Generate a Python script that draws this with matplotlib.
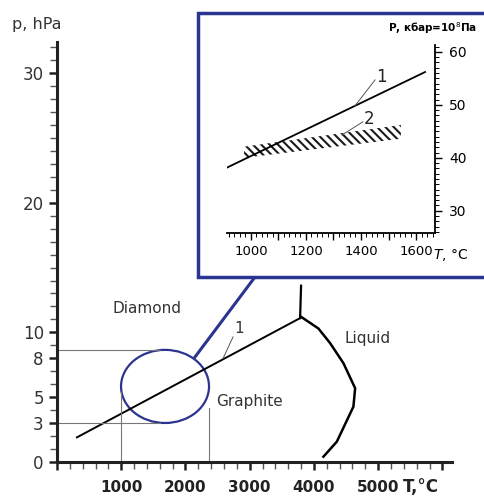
import numpy as np
import matplotlib.pyplot as plt
from matplotlib.patches import Ellipse, Rectangle
from matplotlib.lines import Line2D

# main phase diagram (T in degC, p in hPa-scale as labelled)
line1_T = [310, 3785]
line1_p = [1.9, 11.1]
melt_T = [3785, 3800]
melt_p = [11.1, 13.6]
liquid_T = [3800, 4070, 4252, 4460, 4642, 4615, 4357, 4148]
liquid_p = [11.2, 10.3, 9.17, 7.62, 5.69, 4.27, 1.57, 0.41]
y_ticks = [0, 3, 5, 8, 10, 20, 30]
x_ticks = [1000, 2000, 3000, 4000, 5000]

# inset (kbar)
in_line_T = [887, 1633]
in_line_p = [37.5, 56.2]
band_T = [975, 1545]
band_lo = [40.0, 43.6]
band_hi = [42.1, 46.2]

blue = '#2b3590'
W, H = 484, 497

fig = plt.figure(figsize=(4.84, 4.97), dpi=100)
ax = fig.add_axes([57 / W, 35 / H, 395 / W, 420 / H])
ax.set_xlim(0, 6150)
ax.set_ylim(0, 32.4)
for s in ['top', 'right']:
    ax.spines[s].set_visible(False)
for s in ['left', 'bottom']:
    ax.spines[s].set_linewidth(2.2)
    ax.spines[s].set_color('#222222')

ax.set_yticks(np.arange(0, 33, 1), minor=True)
ax.set_yticks(y_ticks)
ax.set_yticklabels([str(v) for v in y_ticks], fontsize=12, color='#333333')
ax.set_xticks(np.arange(0, 6001, 1000))
ax.set_xticklabels([''] + [str(v) for v in x_ticks] + [''], fontsize=11,
                   fontweight='bold', color='#222222')
ax.set_xticks(np.arange(0, 6001, 200), minor=True)
ax.tick_params(axis='both', which='major', length=6, width=1.8, color='#222222')
ax.tick_params(axis='both', which='minor', length=5, width=1.0, color='#555555')
ax.tick_params(axis='x', pad=7)

ax.plot(line1_T, line1_p, color='black', lw=1.4)
ax.plot(melt_T, melt_p, color='black', lw=1.6)
ax.plot(liquid_T, liquid_p, color='black', lw=1.8)

ax.add_patch(Ellipse((1682, 5.83), 1370, 5.64, fill=False, edgecolor=blue, lw=1.6))
ax.plot([0, 1600], [8.65, 8.65], color='#777777', lw=0.8)
ax.plot([0, 1600], [3.0, 3.0], color='#777777', lw=0.8)
ax.plot([1000, 1000], [0, 5.4], color='#777777', lw=0.8)
ax.plot([2370, 2370], [0, 4.2], color='#777777', lw=0.8)

ax.plot([2586, 2741], [8.0, 9.65], color='#555555', lw=0.7)
ax.text(2760, 9.7, '1', fontsize=11, color='#333333', va='bottom')
ax.text(1400, 11.5, 'Diamond', fontsize=11, color='#333333', ha='center')
ax.text(3000, 4.3, 'Graphite', fontsize=11, color='#333333', ha='center')
ax.text(4830, 9.2, 'Liquid', fontsize=11, color='#333333', ha='center')

fig.text(12 / W, (H - 24) / H, 'p, hPa', fontsize=11.5, color='#333333', va='center')
fig.text(403 / W, (H - 487) / H, 'T,°C', fontsize=12, fontweight='bold',
         color='#222222', va='center')

# inset
fig.add_artist(Line2D([195 / W, 255 / W], [(H - 357) / H, (H - 277) / H],
                      color=blue, lw=2.2))
fig.add_artist(Rectangle((198 / W, (H - 277) / H), 330 / W, 264 / H,
                         facecolor='white', edgecolor=blue, lw=2.5,
                         transform=fig.transFigure, zorder=2))

ax2 = fig.add_axes([227 / W, 264 / H, 208 / W, 188 / H], zorder=3)
ax2.patch.set_alpha(0)
ax2.set_xlim(913, 1669)
ax2.set_ylim(25.8, 61.3)
for s in ['top', 'left']:
    ax2.spines[s].set_visible(False)
for s in ['bottom', 'right']:
    ax2.spines[s].set_linewidth(1.3)
ax2.yaxis.tick_right()
ax2.set_xticks(np.arange(1000, 1601, 100))
ax2.set_xticklabels(['1000', '', '1200', '', '1400', '', '1600'], fontsize=9.5)
ax2.set_xticks(np.arange(920, 1661, 20), minor=True)
ax2.set_yticks([30, 40, 50, 60])
ax2.set_yticklabels(['30', '40', '50', '60'], fontsize=10)
ax2.set_yticks(np.arange(26, 62, 1), minor=True)
ax2.tick_params(which='major', length=5, width=1.0)
ax2.tick_params(which='minor', length=3, width=0.7)
ax2.tick_params(axis='y', pad=5)

ax2.plot(in_line_T, in_line_p, color='black', lw=1.3)
plt.rcParams['hatch.linewidth'] = 1.5
ax2.fill_between(band_T, band_lo, band_hi, facecolor='none', edgecolor='#1a1a1a',
                 hatch='\\\\\\\\', linewidth=0)
ax2.plot([1378, 1451], [49.8, 54.7], color='#555555', lw=0.7)
ax2.text(1455, 54.3, '1', fontsize=12, color='#222222')
ax2.plot([1331, 1407], [44.3, 46.8], color='#555555', lw=0.7)
ax2.text(1410, 46.4, '2', fontsize=12, color='#222222')

fig.text(433 / W, (H - 255) / H, '$T$, °C', fontsize=10, va='center', zorder=4)
fig.text(388 / W, (H - 28) / H, 'P, кбар=10$^8$Па', fontsize=7.5,
         fontweight='bold', va='center', zorder=4)

fig.savefig('out.png', dpi=100)
